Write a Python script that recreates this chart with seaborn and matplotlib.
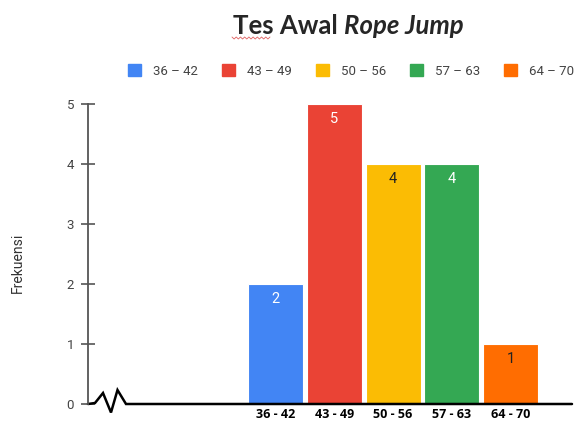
import numpy as np
import matplotlib
matplotlib.use('Agg')
import matplotlib.pyplot as plt
import seaborn as sns
from matplotlib.patches import Patch
from matplotlib.lines import Line2D

# data
categories = ['36 - 42', '43 - 49', '50 - 56', '57 - 63', '64 - 70']
legend_labels = ['36 – 42', '43 – 49', '50 – 56', '57 – 63', '64 – 70']
frekuensi = [2, 5, 4, 4, 1]
colors = ['#4285F4', '#EA4335', '#FBBC04', '#34A853', '#FF6D01']
label_colors = ['white', 'white', '#222222', 'white', '#222222']

sns.set_style('white')
plt.rcParams['font.family'] = ['Roboto', 'DejaVu Sans']

W, H = 579, 423
fig = plt.figure(figsize=(W / 100, H / 100), dpi=100)
# axes box in pixels: left 88, right 570, y=0 at 404, y=5 at 104
ax = fig.add_axes([88 / W, 1 - 404 / H, 482 / W, 300 / H])

sns.barplot(x=categories, y=frekuensi, hue=categories, palette=colors,
            legend=False, width=0.936, saturation=1,
            edgecolor='white', linewidth=0.8, ax=ax)

ax.set_xlim(-3.19, 5.01)
ax.set_ylim(0, 5)

# value labels inside the bars
for i, v in enumerate(frekuensi):
    ax.text(i, v - 0.25, str(v), ha='center', va='center',
            fontsize=10.5, color=label_colors[i])

# axes styling
for s in ['top', 'right', 'bottom']:
    ax.spines[s].set_visible(False)
ax.spines['left'].set_color('#555555')
ax.spines['left'].set_linewidth(1.3)
ax.set_yticks(range(0, 6))
ax.tick_params(axis='y', left=True, direction='inout', length=10, width=1.2,
               color='#555555', labelsize=9.5, labelcolor='#444444', pad=5)
ax.tick_params(axis='x', bottom=False, length=0, pad=3)
ax.set_xticks(range(len(categories)))
ax.set_xticklabels(categories, fontsize=9, fontweight='bold', color='black',
                   family=['Open Sans', 'DejaVu Sans'])
ax.set_xlabel('')
ax.set_ylabel('Frekuensi', fontsize=10, color='#333333')
ax.yaxis.set_label_coords((25 - 88) / 482, (404 - 263) / 300)


# x axis with a break (zigzag) near the origin
def px2ax(px, py):
    return (px - 88) / 482, (404 - py) / 300


zig_px = [(88, 404), (95, 403), (103, 393), (111, 412.5), (117.5, 390),
          (126, 404), (572, 404)]
zx, zy = zip(*[px2ax(a, b) for a, b in zig_px])
ax.plot(zx, zy, color='black', lw=1.8, transform=ax.transAxes,
        clip_on=False, solid_joinstyle='miter')

# title: "Tes Awal" bold + "Rope Jump" bold italic
fig.text(338 / W, 1 - 34 / H, 'Tes Awal', ha='right', va='baseline',
         fontsize=18.5, fontweight='bold', family=['Lato', 'DejaVu Sans'])
fig.text(344 / W, 1 - 34 / H, 'Rope Jump', ha='left', va='baseline',
         fontsize=18.5, fontweight='bold', fontstyle='italic',
         family=['Lato', 'DejaVu Sans'])
# spell-check squiggle under "Tes"
sx = np.linspace(232, 270, 19)
sy = np.where(np.arange(19) % 2 == 0, 37, 39)
fig.add_artist(Line2D(sx / W, 1 - sy / H, color='#e06060', lw=0.6))

# legend row
handles = [Patch(facecolor=c, edgecolor=c, label=l)
           for c, l in zip(colors, legend_labels)]
fig.legend(handles=handles, loc='center', bbox_to_anchor=(351 / W, 1 - 71 / H),
           ncol=5, frameon=False, handlelength=1.0, handleheight=1.0,
           handletextpad=0.9, columnspacing=1.8, fontsize=9.5,
           labelcolor='#444444')

fig.savefig('out.png', dpi=100)
